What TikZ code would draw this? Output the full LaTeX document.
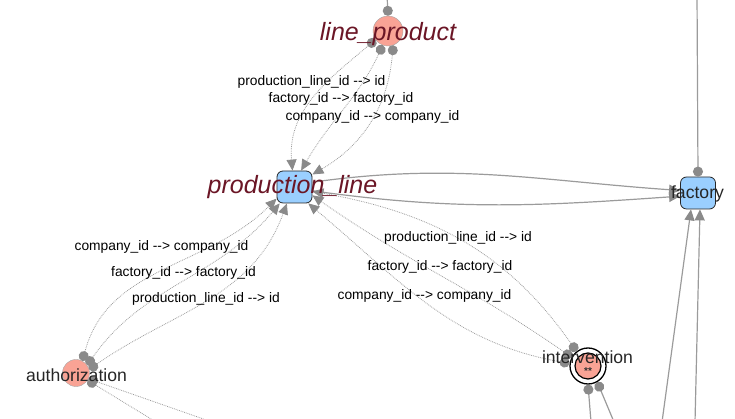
\documentclass[tikz,border=0pt]{standalone}
\usepackage{xcolor}
\usepackage{fontspec}
\setmainfont{Liberation Sans}
\usepackage{tikz}
\usetikzlibrary{arrows.meta}

\definecolor{salmonfill}{HTML}{F9A395}
\definecolor{tableblue}{HTML}{9ACFFF}
\definecolor{namered}{HTML}{6B1626}
\definecolor{edgegray}{HTML}{9B9B9B}
\definecolor{tipgray}{HTML}{8A8A8A}

\begin{document}
\begin{tikzpicture}[x=1pt, y=1pt,
    ent/.style={circle, fill=salmonfill, draw=gray!70, line width=0.4pt, minimum size=30pt, inner sep=0pt},
    tbl/.style={rectangle, rounded corners=6pt, fill=tableblue, draw=black!85, line width=0.8pt, minimum width=35pt, minimum height=32pt, inner sep=0pt},
    bigname/.style={font=\fontsize{25}{28}\selectfont\itshape, text=namered, inner sep=0pt},
    entname/.style={font=\fontsize{17.6}{20}\selectfont, text=black!85, inner sep=0pt},
    keylabel/.style={font=\fontsize{13.8}{16}\selectfont, text=black, inner sep=0pt},
    fk/.style={densely dotted, line width=0.8pt, draw=edgegray, {Circle[length=10pt, color=tipgray]}-{Triangle[length=11pt, width=10pt, color=tipgray]}},
    rel/.style={line width=1.2pt, draw=edgegray, -{Triangle[length=11pt, width=10pt, color=tipgray]}},
    relout/.style={line width=1.2pt, draw=edgegray, {Circle[length=10pt, color=tipgray]}-},
    fkout/.style={densely dotted, line width=0.8pt, draw=edgegray, {Circle[length=10pt, color=tipgray]}-}
  ]
      \clip (0, 0) rectangle (735, 419);

      \node[ent] (lp) at (388, 388){};
      \node[tbl] (pl) at (294.5, 232){};
      \node[tbl] (fac) at (698, 226){};
      \node[ent, minimum size=27pt] (auth) at (76, 46){};
      \node[circle, draw=black, line width=1.3pt, fill=white, minimum size=36pt, inner sep=0pt] (iv) at (588, 53){};
      \node[ent, draw=black, line width=1.2pt, minimum size=26pt] (ivcore) at (iv){};

      \coordinate (lptop) at (387, 425);
      \coordinate (factop) at (697, 425);
      \coordinate (facin1) at (662, -3);
      \coordinate (facin2) at (695, -3);
      \coordinate (ivout1) at (591, -3);
      \coordinate (ivout2) at (614, -3);
      \coordinate (authout1) at (156, -3);
      \coordinate (authout2) at (212, -3);

      \draw[relout] (lp.north) -- (lptop);
      \draw[relout] (fac.north) -- (factop);
      \draw[rel] (facin1) -- ([xshift=-7pt]fac.south);
      \draw[rel] (facin2) -- ([xshift=2pt]fac.south);
      \draw[relout] (iv.-90) -- (ivout1);
      \draw[relout] (iv.-60) -- (ivout2);
      \draw[fkout] (auth.-32) -- (authout1);
      \draw[fkout] (auth.-25) -- (authout2);

      \draw[rel] (pl.15) to[out=8, in=176] (fac.172);
      \draw[rel] (pl.-12) to[out=-8, in=184] (fac.190);

      \draw[fk] (lp.215) to[out=220, in=95] (pl.97);
      \draw[fk] (lp.250) to[out=245, in=60] (pl.68);
      \draw[fk] (lp.290) to[out=265, in=30] (pl.35);

      \draw[fk] (auth.62) to[out=75, in=225] (pl.213);
      \draw[fk] (auth.35) to[out=55, in=230] (pl.228);
      \draw[fk] (auth.15) to[out=35, in=250] (pl.245);

      \draw[fk] (iv.128) to[out=125, in=-10] (pl.-14);
      \draw[fk] (iv.152) to[out=145, in=-35] (pl.-25);
      \draw[fk] (iv.172) to[out=170, in=-40] (pl.-50);

      \node[bigname] (lpname) at (388, 385){line\_product};
      \node[bigname] (plname) at (292.5, 231.5){production\_line};
      \node[entname] (facname) at (697.5, 225){factory};
      \node[entname] (authname) at (76.5, 44){authorization};
      \node[entname] (ivname) at (587.5, 61.5){intervention};
      \node[font=\fontsize{10}{11}\selectfont\bfseries, text=black!80, inner sep=0pt] (ivstar) at (588, 48){**};

      \node[keylabel] (lpk1) at (311.5, 337){production\_line\_id -{}-> id};
      \node[keylabel] (lpk2) at (341, 320){factory\_id -{}-> factory\_id};
      \node[keylabel] (lpk3) at (372.5, 302){company\_id -{}-> company\_id};

      \node[keylabel] (authk1) at (161.5, 172){company\_id -{}-> company\_id};
      \node[keylabel] (authk2) at (183.5, 146){factory\_id -{}-> factory\_id};
      \node[keylabel] (authk3) at (206, 120){production\_line\_id -{}-> id};

      \node[keylabel] (ivk1) at (458, 181){production\_line\_id -{}-> id};
      \node[keylabel] (ivk2) at (440, 152){factory\_id -{}-> factory\_id};
      \node[keylabel] (ivk3) at (424.5, 123){company\_id -{}-> company\_id};
    \end{tikzpicture}
\end{document}
